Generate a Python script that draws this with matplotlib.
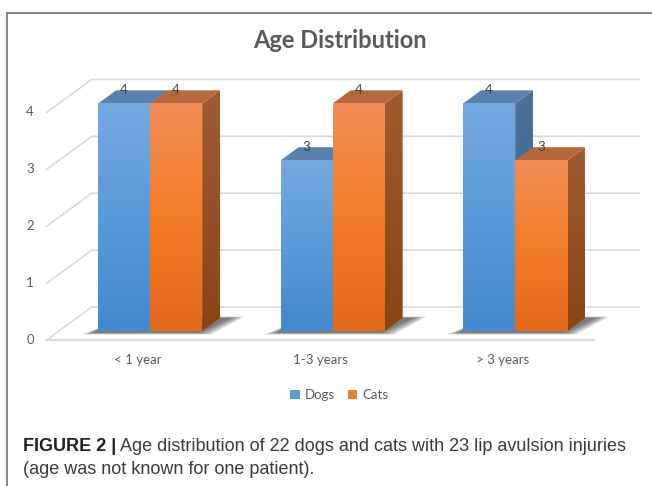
import numpy as np
import matplotlib
matplotlib.use("Agg")
import matplotlib.pyplot as plt
from matplotlib.patches import Polygon, Patch
from matplotlib.lines import Line2D
from matplotlib.colors import to_rgb

# chart data
categories = ["< 1 year", "1-3 years", "> 3 years"]
series_names = ["Dogs", "Cats"]
dogs = [4, 3, 4]
cats = [4, 4, 3]
y_ticks = [0, 1, 2, 3, 4]

# excel style 3d colours (front gradient top/mid/bottom, top face, side face)
front_cols = {"Dogs": ["#74a9de", "#5a9ad8", "#4488cf"],
              "Cats": ["#f18c55", "#f47d28", "#e2691a"]}
top_cols = {"Dogs": "#5a81ad", "Cats": "#b5683b"}
side_cols = {"Dogs": ["#4b709a", "#3f6590"], "Cats": ["#a15b31", "#8b4413"]}
legend_cols = {"Dogs": "#5b9bd5", "Cats": "#ed7d31"}

W, H = 652, 486
fig = plt.figure(figsize=(W / 100, H / 100), dpi=100)
ax = fig.add_axes([0, 0, 1, 1])
# group i sits at 138+182.5*i px, value v at 340-56.9*v px on the front plane
XS, YS = 182.5, 56.9
ax.set_xlim(-138 / XS, (W - 138) / XS)
ax.set_ylim((340 - H) / YS, 340 / YS)
ax.axis("off")

DX, DY = 45 / XS, 33 / YS     # shift for the full floor depth
D0, D1 = 0.27, 0.67           # front and back of the columns inside the floor
BW = 52 / XS                  # column width
GRID = "#d9d9d9"


def grad(cols, n=80):
    t = np.linspace(0, 1, n)
    stops = np.linspace(0, 1, len(cols))
    rgb = np.array([to_rgb(c) for c in cols])
    img = np.stack([np.interp(t, stops, rgb[:, k]) for k in range(3)], axis=1)
    return img[:, None, :]


# gridlines: left diagonal + back wall line
for v in y_ticks:
    xs = [-0.5, -0.5 + DX, 2.5 + DX]
    ys = [v, v + DY, v + DY]
    ax.plot(xs, ys, color=GRID, lw=1.2, zorder=1)
    ax.text(-0.57, v, str(v), ha="right", va="center", color="#595959",
            fontsize=9.5, family="Lato")
ax.plot([-0.5, 2.5], [0, 0], color=GRID, lw=1.6, zorder=1)

ddx, ddy = (D1 - D0) * DX, (D1 - D0) * DY
z = 3
for i, cat in enumerate(categories):
    ax.text(i, -0.36, cat, ha="center", va="center", color="#595959",
            fontsize=9.5, family="Lato")
    # soft shadow under the pair of columns
    xl = i - BW + D0 * DX
    xr = i + BW + D0 * DX
    yb = D0 * DY
    for k in range(7):
        e = 0.012 * k
        sh = Polygon([(xl - 0.02 - e, yb - 0.03 - e * 0.4),
                      (xr - 0.02 + e, yb - 0.03 - e * 0.4),
                      (xr + ddx + 0.06 + e, yb + ddy + e * 0.3),
                      (xl + ddx + e, yb + ddy + e * 0.3)],
                     closed=True, facecolor="#252525", edgecolor="none",
                     alpha=0.12, zorder=2)
        ax.add_patch(sh)

    for name, vals, off in (("Dogs", dogs, -BW), ("Cats", cats, 0.0)):
        v = vals[i]
        x0 = i + off + D0 * DX
        x1 = x0 + BW
        yt = yb + v
        # side face
        side = Polygon([(x1, yb), (x1 + ddx, yb + ddy), (x1 + ddx, yt + ddy), (x1, yt)],
                       closed=True, transform=ax.transData)
        im = ax.imshow(grad(side_cols[name]), extent=[x1, x1 + ddx, yb, yt + ddy],
                       aspect="auto", zorder=z, interpolation="bilinear")
        im.set_clip_path(side)
        # top face
        ax.add_patch(Polygon([(x0, yt), (x1, yt), (x1 + ddx, yt + ddy), (x0 + ddx, yt + ddy)],
                             closed=True, facecolor=top_cols[name], edgecolor="none",
                             zorder=z))
        # front face
        ax.imshow(grad(front_cols[name]), extent=[x0, x1, yb, yt], aspect="auto",
                  zorder=z, interpolation="bilinear")
        ax.text((x0 + x1) / 2, yt + ddy, str(v), ha="center", va="center",
                color="#404040", fontsize=9.5, family="Lato", zorder=10)
        z += 1

ax.set_xlim(-138 / XS, (W - 138) / XS)
ax.set_ylim((340 - H) / YS, 340 / YS)

fig.text(340 / W, 1 - 41 / H, "Age Distribution", ha="center", va="center",
         fontsize=17, fontweight="bold", color="#595959", family="Lato")

handles = [Patch(facecolor=legend_cols[n], edgecolor="none", label=n) for n in series_names]
fig.legend(handles=handles, loc="center", bbox_to_anchor=(339 / W, 1 - 395 / H), ncol=2,
           frameon=False, handlelength=0.75, handleheight=0.75, handletextpad=0.35,
           columnspacing=1.0, prop={"family": "Lato", "size": 9.5}, labelcolor="#595959")

# frame of the figure panel
fig.add_artist(Line2D([7 / W, 1], [1 - 13 / H, 1 - 13 / H], transform=fig.transFigure,
                      color="#808080", lw=1.3))
fig.add_artist(Line2D([7 / W, 7 / W], [0, 1 - 13 / H], transform=fig.transFigure,
                      color="#808080", lw=1.3))

# caption
bold = fig.text(23 / W, 1 - 451 / H, "FIGURE 2 |", fontsize=13, fontweight="bold",
                color="#231f20", family="Liberation Sans", va="baseline")
ax.annotate(" Age distribution of 22 dogs and cats with 23 lip avulsion injuries",
            xy=(1, 0), xycoords=bold, va="bottom", ha="left", fontsize=13,
            color="#3a3a3a", family="Liberation Sans", annotation_clip=False)
fig.text(23 / W, 1 - 474 / H, "(age was not known for one patient).", fontsize=13,
         color="#3a3a3a", family="Liberation Sans", va="baseline")

fig.savefig("out.png", dpi=100)
